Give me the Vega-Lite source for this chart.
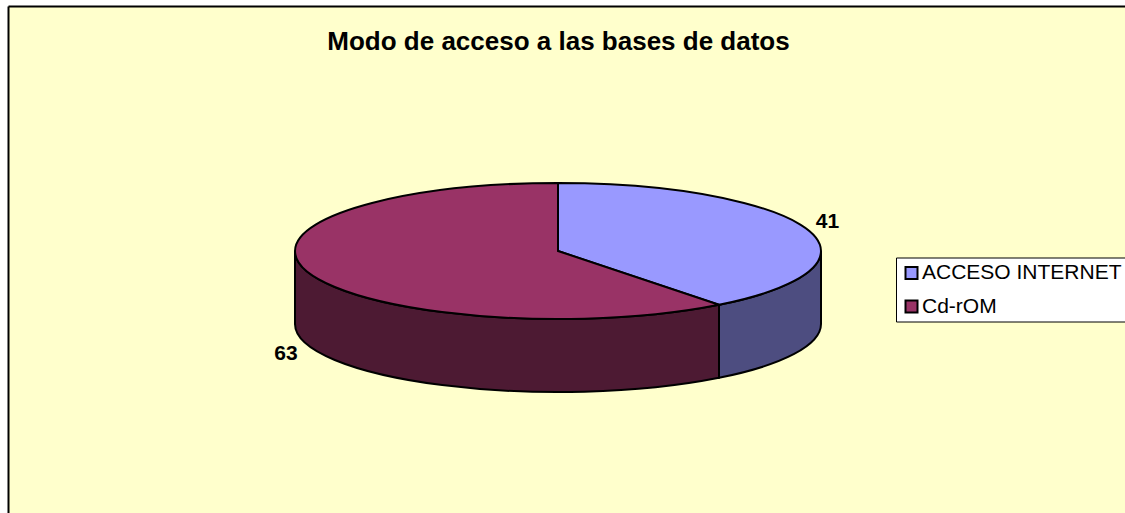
{
"$schema":"https://vega.github.io/schema/vega-lite/v6.json",
"width":1117,"height":507,
"autosize":{"type":"none"},
"padding":{"left":8,"top":6,"right":0,"bottom":0},
"background":"#FFFFFF",
"view":{"fill":"#FFFFCC","stroke":null},
"title":{"text":"Modo de acceso a las bases de datos","font":"Liberation Sans","fontSize":26,"fontWeight":"bold","color":"#000000","anchor":"middle","dx":-8,"offset":-70,"baseline":"alphabetic"},
"data":{"values":[{"modo":"ACCESO INTERNET","valor":41},{"modo":"Cd-rOM","valor":63}]},
"layer":[
{"mark":{"type":"point","filled":true,"size":4,"opacity":1,"stroke":"#000000","strokeWidth":2},
 "encoding":{
  "shape":{"field":"modo","type":"nominal","legend":null,"scale":{"domain":["ACCESO INTERNET","Cd-rOM"],"range":["M254.5,-8.5 A263,68 0 0 1 152.5,45.3 L152.5,118.3 A263,68 0 0 0 254.5,64.5 Z","M152.5,45.3 A263,68 0 0 1 -271.5,-8.5 L-271.5,64.5 A263,68 0 0 0 152.5,118.3 Z"]}},
  "fill":{"condition":{"test":"datum.modo === 'Cd-rOM'","value":"#4D1A33"},"value":"#4D4D80"}
 }},
{"mark":{"type":"point","filled":true,"size":4,"opacity":1,"stroke":"#000000","strokeWidth":2},
 "encoding":{
  "shape":{"field":"modo","type":"nominal","legend":null,"scale":{"domain":["ACCESO INTERNET","Cd-rOM"],"range":["M-8.5,-8.5 L-8.5,-76.5 A263,68 0 0 1 254.5,-8.5 A263,68 0 0 1 152.5,45.3 Z","M-8.5,-8.5 L152.5,45.3 A263,68 0 0 1 -271.5,-8.5 A263,68 0 0 1 -8.5,-76.5 Z"]}},
  "fill":{"field":"modo","type":"nominal","scale":{"domain":["ACCESO INTERNET","Cd-rOM"],"range":["#9999FF","#993366"]},
   "legend":{"title":null,"orient":"none","legendX":888,"legendY":251.5,"symbolType":"square","symbolSize":144,"symbolStrokeColor":"#000000","symbolStrokeWidth":2,"labelFont":"Liberation Sans","labelFontSize":21,"labelColor":"#000000","labelLimit":300,"labelOffset":0,"rowPadding":11.5,"fillColor":"#FFFFFF","strokeColor":"#000000","padding":5}}
 }},
{"mark":{"type":"text","font":"Liberation Sans","fontSize":21,"fontWeight":"bold","color":"#000000","align":"center","baseline":"middle"},
 "encoding":{
  "text":{"field":"valor","type":"quantitative"},
  "x":{"field":"valor","type":"quantitative","scale":{"domain":[74.294,28.913],"range":[0,1117]},"axis":{"orient":"top","labels":false,"ticks":false,"grid":false,"title":null,"domainColor":"#000000","domainWidth":2}},
  "y":{"field":"valor","type":"quantitative","scale":{"domain":[5,89.5],"range":[0,507]},"axis":{"orient":"left","labels":false,"ticks":false,"grid":false,"title":null,"domainColor":"#000000","domainWidth":2}}
 }}
],
"resolve":{"scale":{"shape":"independent"}}
}
